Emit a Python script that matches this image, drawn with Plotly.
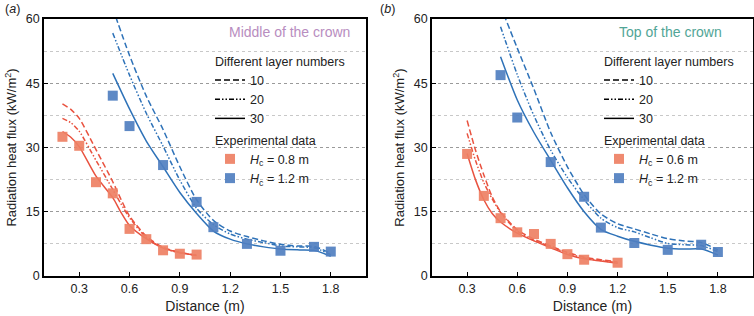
import plotly.graph_objects as go
from plotly.subplots import make_subplots

# ---------------- data ----------------
# Panel (a): middle of the crown
a_exp_x_08 = [0.2, 0.3, 0.4, 0.5, 0.6, 0.7, 0.8, 0.9, 1.0]
a_exp_y_08 = [32.5, 30.4, 21.9, 19.3, 11.0, 8.6, 6.0, 5.2, 5.0]
a_exp_x_12 = [0.5, 0.6, 0.8, 1.0, 1.1, 1.3, 1.5, 1.7, 1.8]
a_exp_y_12 = [42.1, 35.0, 25.9, 17.3, 11.4, 7.5, 5.9, 6.8, 5.7]

a_mod_x_08 = [0.2, 0.25, 0.3, 0.4, 0.5, 0.55, 0.6, 0.7, 0.8, 0.9, 1.0]
a_mod_08_10 = [40.2, 38.9, 36.8, 29.5, 22.0, 17.8, 14.0, 9.3, 6.7, 5.5, 4.9]
a_mod_08_20 = [36.8, 35.8, 33.8, 27.0, 20.2, 16.8, 13.6, 9.0, 6.5, 5.4, 4.9]
a_mod_08_30 = [33.7, 32.4, 30.2, 23.3, 18.3, 14.8, 11.8, 8.7, 6.5, 5.5, 4.8]

a_mod_x_12 = [0.5, 0.6, 0.7, 0.8, 0.9, 1.0, 1.1, 1.2, 1.3, 1.4, 1.5, 1.6, 1.7, 1.8]
a_mod_12_10 = [62.5, 51.5, 42.0, 34.2, 25.5, 17.8, 13.0, 10.5, 9.2, 8.2, 7.4, 7.0, 6.9, 5.3]
a_mod_12_20 = [56.7, 46.9, 38.0, 30.3, 22.4, 15.8, 12.0, 9.8, 8.6, 7.8, 7.0, 6.8, 6.6, 5.0]
a_mod_12_30 = [47.3, 39.0, 31.5, 25.5, 19.5, 14.6, 10.5, 8.6, 7.5, 6.8, 6.3, 6.1, 6.0, 4.6]

# Panel (b): top of the crown
b_exp_x_06 = [0.3, 0.4, 0.5, 0.6, 0.7, 0.8, 0.9, 1.0, 1.2]
b_exp_y_06 = [28.5, 18.7, 13.5, 10.2, 9.8, 7.5, 5.1, 3.8, 3.1]
b_exp_x_12 = [0.5, 0.6, 0.8, 1.0, 1.1, 1.3, 1.5, 1.7, 1.8]
b_exp_y_12 = [46.9, 37.0, 26.6, 18.5, 11.3, 7.7, 6.1, 7.3, 5.6]

b_mod_x_06 = [0.3, 0.35, 0.4, 0.45, 0.5, 0.6, 0.7, 0.8, 0.9, 1.0, 1.1, 1.2]
b_mod_06_10 = [36.3, 29.4, 23.6, 18.5, 15.0, 10.8, 8.6, 7.0, 5.5, 4.4, 3.8, 3.3]
b_mod_06_20 = [33.3, 27.0, 21.8, 18.0, 14.8, 10.5, 8.3, 6.9, 5.3, 4.2, 3.6, 3.1]
b_mod_06_30 = [28.6, 22.5, 17.8, 14.6, 12.6, 10.0, 8.2, 6.6, 5.0, 4.0, 3.5, 3.0]

b_mod_x_12 = [0.5, 0.6, 0.7, 0.8, 0.9, 1.0, 1.1, 1.2, 1.3, 1.4, 1.5, 1.6, 1.7, 1.8]
b_mod_12_10 = [63.0, 53.2, 43.6, 33.5, 25.5, 19.0, 14.5, 12.2, 11.0, 9.8, 8.7, 8.2, 7.8, 6.1]
b_mod_12_20 = [58.2, 47.0, 37.4, 29.4, 23.0, 17.8, 13.5, 11.3, 10.3, 8.9, 7.6, 7.3, 7.1, 5.7]
b_mod_12_30 = [51.2, 41.1, 33.5, 27.0, 20.6, 15.0, 10.9, 9.3, 8.1, 7.2, 6.5, 6.3, 6.3, 4.9]

x_ticks = [0.3, 0.6, 0.9, 1.2, 1.5, 1.8]
y_ticks = [0, 15, 30, 45, 60]
layer_labels = ["10", "20", "30"]

# ---------------- styles ----------------
RED_LINE = "#E9523F"
BLUE_LINE = "#2E72B8"
RED_SQ = "rgba(238,128,100,0.92)"
BLUE_SQ = "rgba(80,127,192,0.92)"
DASH_10 = "6px,3px"
DASH_20 = "5px,2px,1.5px,2px,1.5px,2px"
DASH_30 = "solid"
DASHES = [DASH_10, DASH_20, DASH_30]
FONT = "Liberation Sans, Arial, sans-serif"

fig = make_subplots(rows=1, cols=2)


def add_panel(col, legend_name, mods_red, mods_blue, xr, xb, ex_r, ey_r, ex_b, ey_b, hr_label, hb_label):
    for ys, dash in zip(mods_red, DASHES):
        fig.add_trace(go.Scatter(x=xr, y=ys, mode="lines",
                                 line=dict(color=RED_LINE, width=1.5, dash=dash, shape="spline", smoothing=0.7),
                                 showlegend=False, hoverinfo="skip"), row=1, col=col)
    for ys, dash in zip(mods_blue, DASHES):
        fig.add_trace(go.Scatter(x=xb, y=ys, mode="lines",
                                 line=dict(color=BLUE_LINE, width=1.5, dash=dash, shape="spline", smoothing=0.7),
                                 showlegend=False, hoverinfo="skip"), row=1, col=col)
    # legend entries for layer numbers
    for lab, dash in zip(layer_labels, DASHES):
        fig.add_trace(go.Scatter(x=[None], y=[None], mode="lines", name=lab,
                                 line=dict(color="black", width=1.5, dash=dash),
                                 legend=legend_name, legendgroup="layers",
                                 legendgrouptitle=dict(text="Different layer numbers"),
                                 showlegend=True), row=1, col=col)
    fig.add_trace(go.Scatter(x=ex_r, y=ey_r, mode="markers", name=hr_label,
                             marker=dict(symbol="square", size=10, color=RED_SQ),
                             legend=legend_name, legendgroup="exp",
                             legendgrouptitle=dict(text="Experimental data")), row=1, col=col)
    fig.add_trace(go.Scatter(x=ex_b, y=ey_b, mode="markers", name=hb_label,
                             marker=dict(symbol="square", size=10, color=BLUE_SQ),
                             legend=legend_name, legendgroup="exp",
                             legendgrouptitle=dict(text="Experimental data")), row=1, col=col)


add_panel(1, "legend", [a_mod_08_10, a_mod_08_20, a_mod_08_30], [a_mod_12_10, a_mod_12_20, a_mod_12_30],
          a_mod_x_08, a_mod_x_12, a_exp_x_08, a_exp_y_08, a_exp_x_12, a_exp_y_12,
          "<i>H</i><sub>c</sub> = 0.8 m", "<i>H</i><sub>c</sub> = 1.2 m")
add_panel(2, "legend2", [b_mod_06_10, b_mod_06_20, b_mod_06_30], [b_mod_12_10, b_mod_12_20, b_mod_12_30],
          b_mod_x_06, b_mod_x_12, b_exp_x_06, b_exp_y_06, b_exp_x_12, b_exp_y_12,
          "<i>H</i><sub>c</sub> = 0.6 m", "<i>H</i><sub>c</sub> = 1.2 m")

W, H = 754, 316
T, B = 19, 40
PH = H - T - B
dom_a = [44 / W, 366 / W]
dom_b = [432 / W, 753 / W]

axis_common = dict(showline=True, linecolor="black", linewidth=1.5, mirror=True,
                   ticks="inside", ticklen=4, tickcolor="black", tickwidth=1,
                   tickfont=dict(size=12.5, color="#222"), zeroline=False, automargin=False)

for i, dom in zip([1, 2], [dom_a, dom_b]):
    fig.update_xaxes(domain=dom, range=[0.09, 2.01], tickvals=x_ticks,
                     ticktext=[f"{v:.1f}" for v in x_ticks], showgrid=False,
                     title=dict(text="Distance (m)", font=dict(size=14, color="#222"), standoff=6),
                     row=1, col=i, **axis_common)
    fig.update_yaxes(range=[0, 60], tickvals=y_ticks, showgrid=True,
                     gridcolor="#9a9a9a", griddash="dot", gridwidth=1,
                     minor=dict(dtick=7.5, tick0=0, showgrid=True, gridcolor="#c8c8c8", griddash="dot", ticks=""),
                     title=dict(text="Radiation heat flux (kW/m<sup>2</sup>)", font=dict(size=13, color="#222"), standoff=6),
                     row=1, col=i, **axis_common)

legend_common = dict(font=dict(size=12.5, color="#222", family=FONT), bgcolor="rgba(0,0,0,0)",
                     tracegroupgap=2, grouptitlefont=dict(size=12.5, color="#222"),
                     xanchor="left", yanchor="top", itemwidth=30)


def py(px):
    return 1 - (px - T) / PH


fig.update_layout(
    width=W, height=H,
    margin=dict(l=0, r=0, t=T, b=B),
    plot_bgcolor="white", paper_bgcolor="white",
    font=dict(family=FONT, color="#222"),
    legend=dict(x=210 / W, y=py(46), **legend_common),
    legend2=dict(x=599 / W, y=py(46), **legend_common),
    annotations=[
        dict(text="(<i>a</i>)", x=3 / W, y=py(0), xref="paper", yref="paper", xanchor="left", yanchor="top",
             showarrow=False, font=dict(size=12.5, color="#222")),
        dict(text="(<i>b</i>)", x=378 / W, y=py(0), xref="paper", yref="paper", xanchor="left", yanchor="top",
             showarrow=False, font=dict(size=12.5, color="#222")),
        dict(text="Middle of the crown", x=0.955, y=0.95, xref="x domain", yref="y domain",
             xanchor="right", yanchor="middle", showarrow=False, font=dict(size=14, color="#B88DC0")),
        dict(text="Top of the crown", x=0.91, y=0.95, xref="x2 domain", yref="y2 domain",
             xanchor="right", yanchor="middle", showarrow=False, font=dict(size=14, color="#52A596")),
    ],
)

fig.write_html("out.html", config={"displayModeBar": False},
               post_script="document.body.style.margin='0px';")
